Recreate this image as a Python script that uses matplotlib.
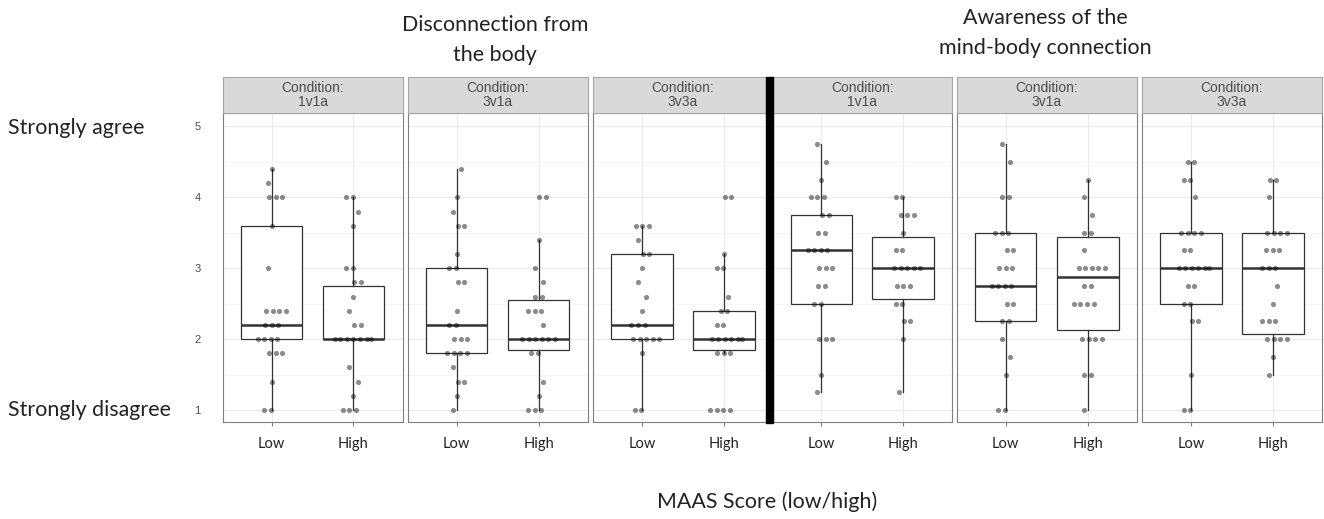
import numpy as np
import matplotlib
matplotlib.use('Agg')
import matplotlib.pyplot as plt
from matplotlib.patches import Rectangle

# ---------------- data ----------------
groups = ['Low', 'High']
conditions = ['1v1a', '3v1a', '3v3a', '1v1a', '3v1a', '3v3a']
titles = ['Disconnection from\nthe body', 'Awareness of the\nmind-body connection']

# jittered answers per panel (low MAAS, high MAAS)
dis_1v1a_low = [4.4, 4.2, 4.0, 4.0, 4.0, 3.6, 3.0, 2.4, 2.4, 2.4, 2.4, 2.2, 2.2, 2.2,
                2.0, 2.0, 2.0, 2.0, 1.8, 1.8, 1.8, 1.4, 1.0, 1.0]
dis_1v1a_high = [4.0, 4.0, 3.8, 3.6, 3.0, 3.0, 2.8, 2.8, 2.6, 2.4, 2.2, 2.2,
                 2.0, 2.0, 2.0, 2.0, 2.0, 2.0, 2.0, 1.6, 1.4, 1.2, 1.0, 1.0, 1.0]
dis_3v1a_low = [4.4, 4.0, 3.8, 3.6, 3.6, 3.2, 3.0, 3.0, 2.8, 2.8, 2.4, 2.2, 2.2,
                2.0, 2.0, 2.0, 1.8, 1.8, 1.8, 1.8, 1.6, 1.4, 1.4, 1.2, 1.0]
dis_3v1a_high = [4.0, 4.0, 3.4, 3.0, 2.8, 2.6, 2.6, 2.4, 2.4, 2.4, 2.2,
                 2.0, 2.0, 2.0, 2.0, 2.0, 2.0, 1.8, 1.8, 1.4, 1.2, 1.0, 1.0, 1.0]
dis_3v3a_low = [3.6, 3.6, 3.6, 3.4, 3.2, 3.2, 3.0, 2.8, 2.6, 2.4, 2.2, 2.2, 2.2,
                2.0, 2.0, 2.0, 2.0, 2.0, 1.8, 1.0, 1.0]
dis_3v3a_high = [4.0, 4.0, 3.2, 3.0, 3.0, 2.6, 2.4, 2.4, 2.2, 2.2,
                 2.0, 2.0, 2.0, 2.0, 2.0, 2.0, 1.8, 1.8, 1.8, 1.0, 1.0, 1.0, 1.0]
aw_1v1a_low = [4.75, 4.5, 4.25, 4.0, 4.0, 4.0, 3.75, 3.75, 3.5, 3.5, 3.25, 3.25, 3.25, 3.25,
               3.0, 3.0, 3.0, 2.75, 2.75, 2.5, 2.5, 2.0, 2.0, 2.0, 1.5, 1.25]
aw_1v1a_high = [4.0, 4.0, 3.75, 3.75, 3.75, 3.5, 3.25, 3.25, 3.0, 3.0, 3.0, 3.0, 3.0,
                2.75, 2.75, 2.75, 2.5, 2.5, 2.25, 2.25, 2.0, 1.25]
aw_3v1a_low = [4.75, 4.5, 4.0, 4.0, 3.5, 3.5, 3.5, 3.25, 3.25, 3.0, 3.0, 3.0,
               2.75, 2.75, 2.75, 2.75, 2.5, 2.5, 2.25, 2.25, 2.0, 1.75, 1.5, 1.0, 1.0]
aw_3v1a_high = [4.25, 4.0, 3.75, 3.5, 3.5, 3.25, 3.0, 3.0, 3.0, 3.0, 3.0, 2.75, 2.75,
                2.5, 2.5, 2.5, 2.5, 2.0, 2.0, 2.0, 2.0, 1.5, 1.5, 1.0]
aw_3v3a_low = [4.5, 4.5, 4.25, 4.25, 4.0, 3.5, 3.5, 3.5, 3.5, 3.25, 3.25,
               3.0, 3.0, 3.0, 3.0, 3.0, 3.0, 2.75, 2.75, 2.5, 2.5, 2.25, 2.25, 1.5, 1.0, 1.0]
aw_3v3a_high = [4.25, 4.25, 4.0, 3.5, 3.5, 3.5, 3.5, 3.25, 3.25, 3.25, 3.0, 3.0, 3.0,
                2.75, 2.5, 2.25, 2.25, 2.25, 2.0, 2.0, 2.0, 2.0, 1.75, 1.5]

# box summaries (whisker low, q1, median, q3, whisker high)
box_dis_1v1a = [[1.0, 2.0, 2.2, 3.6, 4.4], [1.0, 2.0, 2.0, 2.75, 4.0]]
box_dis_3v1a = [[1.0, 1.8, 2.2, 3.0, 4.4], [1.0, 1.85, 2.0, 2.55, 3.4]]
box_dis_3v3a = [[1.0, 2.0, 2.2, 3.2, 3.6], [1.8, 1.85, 2.0, 2.4, 3.2]]
box_aw_1v1a = [[1.25, 2.5, 3.25, 3.75, 4.75], [1.25, 2.57, 3.0, 3.44, 4.0]]
box_aw_3v1a = [[1.0, 2.25, 2.75, 3.5, 4.75], [1.0, 2.13, 2.88, 3.44, 4.25]]
box_aw_3v3a = [[1.0, 2.5, 3.0, 3.5, 4.5], [1.5, 2.07, 3.0, 3.5, 4.25]]

points = [(dis_1v1a_low, dis_1v1a_high), (dis_3v1a_low, dis_3v1a_high), (dis_3v3a_low, dis_3v3a_high),
          (aw_1v1a_low, aw_1v1a_high), (aw_3v1a_low, aw_3v1a_high), (aw_3v3a_low, aw_3v3a_high)]
boxes = [box_dis_1v1a, box_dis_3v1a, box_dis_3v3a, box_aw_1v1a, box_aw_3v1a, box_aw_3v3a]

# ---------------- layout (pixels) ----------------
W, H = 1324, 519
panel_x = [(222.7, 402.5), (407.7, 587.7), (593, 773), (772.5, 952), (956.5, 1137), (1141.8, 1322)]
strip_top, panel_top, panel_bot = 77, 113, 422

calibri = ['Lato', 'DejaVu Sans']
arial = ['Liberation Sans', 'DejaVu Sans']


def spread(vals):
    # deterministic horizontal spread for overlapping answers
    vals = np.asarray(vals)
    off = np.zeros(len(vals))
    for k, v in enumerate(np.unique(vals)):
        idx = np.where(vals == v)[0]
        n = len(idx)
        base = (np.arange(n) - (n - 1) / 2) * 0.08
        shift = 0.05 * ((k % 3) - 1)
        off[idx] = np.clip(base + shift, -0.22, 0.22)
    return off


fig = plt.figure(figsize=(W / 100, H / 100), dpi=100)

for i, (x0, x1) in enumerate(panel_x):
    ax = fig.add_axes([x0 / W, 1 - panel_bot / H, (x1 - x0) / W, (panel_bot - panel_top) / H])

    stats = []
    for lo, q1, med, q3, hi in boxes[i]:
        stats.append(dict(whislo=lo, q1=q1, med=med, q3=q3, whishi=hi, fliers=[]))
    ax.bxp(stats, positions=[1, 2], widths=0.75, showcaps=False, showfliers=False,
           patch_artist=True, manage_ticks=False,
           boxprops=dict(facecolor='white', edgecolor='#333333', linewidth=0.9),
           whiskerprops=dict(color='#333333', linewidth=0.9),
           medianprops=dict(color='#333333', linewidth=1.8))

    for g, vals in enumerate(points[i]):
        xs = g + 1 + spread(vals)
        ax.scatter(xs, vals, s=14, color='black', alpha=0.45, lw=0, zorder=5)

    ax.set_xlim(0.4, 2.6)
    ax.set_ylim(0.83, 5.19)
    ax.set_yticks([1, 2, 3, 4, 5])
    ax.set_yticks([1.5, 2.5, 3.5, 4.5], minor=True)
    ax.set_xticks([1, 2])
    ax.grid(which='major', color='#EBEBEB', lw=0.8)
    ax.grid(which='minor', axis='y', color='#F5F5F5', lw=0.6)
    ax.tick_params(which='minor', length=0)
    ax.set_axisbelow(True)
    for s in ax.spines.values():
        s.set_color('#7F7F7F')
        s.set_linewidth(0.8)

    ax.set_xticklabels(groups, fontsize=10.5, family=calibri, color='#222222')
    ax.tick_params(axis='x', length=3, color='#7F7F7F', pad=8)
    if i == 0:
        ax.set_yticklabels(['1', '2', '3', '4', '5'], fontsize=8, family=arial, color='#4D4D4D')
        ax.tick_params(axis='y', length=0, pad=16)
    else:
        ax.tick_params(axis='y', which='both', left=False, labelleft=False)

    # facet strip
    st = fig.add_axes([x0 / W, 1 - panel_top / H, (x1 - x0) / W, (panel_top - strip_top) / H])
    st.set_facecolor('#D9D9D9')
    st.set_xticks([])
    st.set_yticks([])
    for s in st.spines.values():
        s.set_color('#A6A6A6')
        s.set_linewidth(0.8)
    st.text(0.5, 0.5, 'Condition:\n' + conditions[i], ha='center', va='center',
            fontsize=10, family=arial, color='#4D4D4D', linespacing=1.05, transform=st.transAxes)

# thick separator between the two questions
fig.add_artist(Rectangle((766 / W, 1 - 422.7 / H), 6.7 / W, (422.7 - 76.7) / H,
                         transform=fig.transFigure, color='black', zorder=10))

fig.text(495 / W, 1 - 40 / H, titles[0], ha='center', va='center', fontsize=15.4,
         family=calibri, color='#222222', linespacing=1.65)
fig.text(1045 / W, 1 - 33 / H, titles[1], ha='center', va='center', fontsize=15.4,
         family=calibri, color='#222222', linespacing=1.65)
fig.text(8 / W, 1 - 128 / H, 'Strongly agree', ha='left', va='center', fontsize=15.4,
         family=calibri, color='#222222')
fig.text(8 / W, 1 - 410 / H, 'Strongly disagree', ha='left', va='center', fontsize=15.4,
         family=calibri, color='#222222')
fig.text(767 / W, 1 - 502 / H, 'MAAS Score (low/high)', ha='center', va='center', fontsize=15.4,
         family=calibri, color='#222222')

fig.savefig('out.png', dpi=100, facecolor='white')
